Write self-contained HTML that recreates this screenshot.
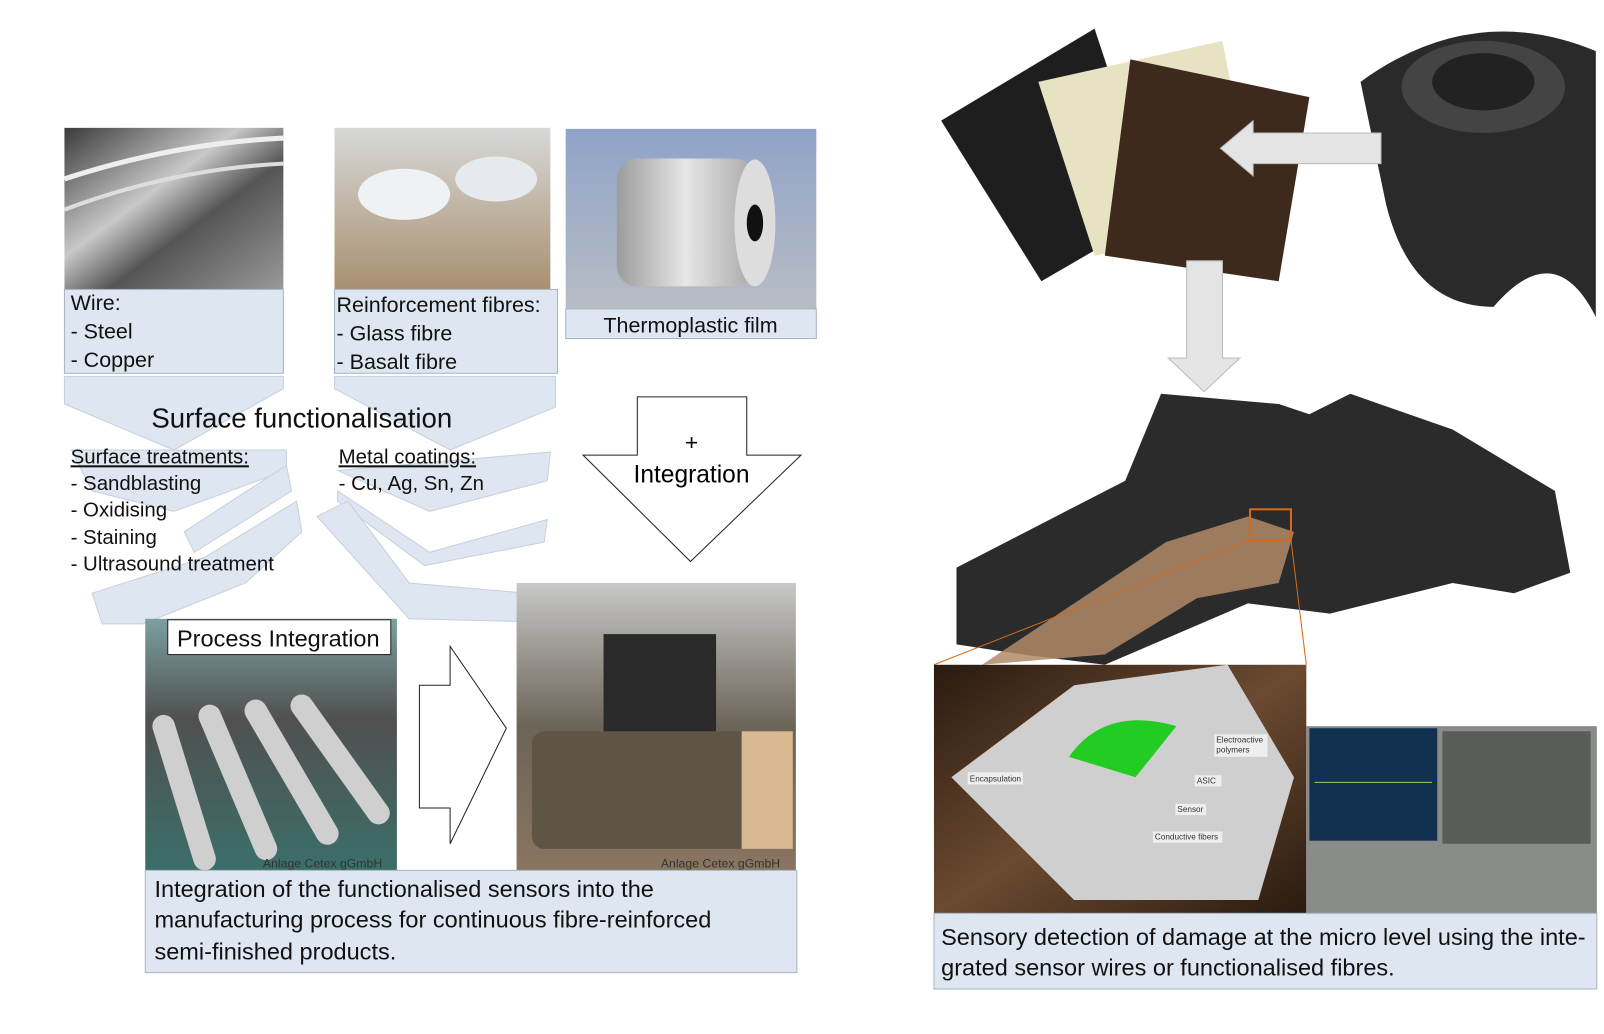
<!DOCTYPE html>
<html><head><meta charset="utf-8"><style>
body{margin:0;background:#fff;}
svg{display:block;font-family:"Liberation Sans",sans-serif;}
</style></head><body>
<svg width="1604" height="1034" viewBox="0 0 1568 1011" preserveAspectRatio="none" xmlns="http://www.w3.org/2000/svg">
<defs>
<linearGradient id="wire" x1="0" y1="0" x2="1" y2="1"><stop offset="0" stop-color="#3a3a3a"/><stop offset=".4" stop-color="#c8c8c8"/><stop offset=".6" stop-color="#555"/><stop offset="1" stop-color="#999"/></linearGradient>
<linearGradient id="film" x1="0" y1="0" x2="0" y2="1"><stop offset="0" stop-color="#8fa3c8"/><stop offset="1" stop-color="#b8bcc4"/></linearGradient>
<linearGradient id="roll" x1="0" y1="0" x2="1" y2="0"><stop offset="0" stop-color="#9c9c9c"/><stop offset=".5" stop-color="#e6e6e6"/><stop offset="1" stop-color="#a8a8a8"/></linearGradient>
<linearGradient id="fib" x1="0" y1="0" x2="0" y2="1"><stop offset="0" stop-color="#d8d8d8"/><stop offset="1" stop-color="#a89070"/></linearGradient>
<linearGradient id="mach" x1="0" y1="0" x2="0" y2="1"><stop offset="0" stop-color="#7aa0a0"/><stop offset=".4" stop-color="#505050"/><stop offset="1" stop-color="#3b6f6a"/></linearGradient>
<linearGradient id="mach2" x1="0" y1="0" x2="0" y2="1"><stop offset="0" stop-color="#c8c8c8"/><stop offset=".5" stop-color="#6b6458"/><stop offset="1" stop-color="#8a7560"/></linearGradient>
<linearGradient id="brown" x1="0" y1="0" x2="1" y2="1"><stop offset="0" stop-color="#2a1a10"/><stop offset=".5" stop-color="#6b4a30"/><stop offset="1" stop-color="#2a1a10"/></linearGradient>
</defs>

<rect x="63" y="125" width="214" height="158" fill="url(#wire)"/>
<path d="M63 175 Q170 140 277 135" stroke="#eee" stroke-width="5" fill="none"/>
<path d="M63 205 Q170 165 277 160" stroke="#ddd" stroke-width="4" fill="none"/>
<rect x="327" y="125" width="211" height="158" fill="url(#fib)"/>
<ellipse cx="395" cy="190" rx="45" ry="25" fill="#eef2f4"/><ellipse cx="485" cy="175" rx="40" ry="22" fill="#e6eaee"/>
<rect x="553" y="126" width="245" height="176" fill="url(#film)"/>
<rect x="603" y="155" width="135" height="125" rx="20" fill="url(#roll)"/>
<ellipse cx="738" cy="218" rx="20" ry="62" fill="#ddd"/><ellipse cx="738" cy="218" rx="8" ry="18" fill="#111"/>

<g fill="#dde6f1" stroke="#aab4c0" stroke-width="1">
<rect x="63" y="283" width="214" height="82"/>
<rect x="327" y="283" width="218" height="82"/>
<rect x="553" y="302" width="245" height="29"/>
</g>
<g font-size="21" fill="#111">
<text x="69" y="303">Wire:</text><text x="69" y="331">- Steel</text><text x="69" y="359">- Copper</text>
<text x="329" y="305">Reinforcement fibres:</text><text x="329" y="333">- Glass fibre</text><text x="329" y="361">- Basalt fibre</text>
<text x="675" y="325" text-anchor="middle">Thermoplastic film</text>
</g>

<g fill="#dde6f1" stroke="#c8d0da" stroke-width="1">
<polygon points="63,368 277,368 277,380 170,440 63,395"/>
<polygon points="327,368 543,368 543,398 440,440 327,380"/>
<polygon points="70,440 280,440 280,460 170,500 90,480"/>
<polygon points="330,460 538,442 535,470 420,500"/>
<polygon points="180,520 280,455 285,480 190,540"/>
<polygon points="330,480 420,540 535,508 532,530 415,553 330,490"/>
<polygon points="90,580 200,545 290,490 295,520 240,570 140,610 100,610"/>
<polygon points="310,505 340,490 400,570 515,580 520,608 400,605"/>
</g>
<text x="148" y="418" font-size="27" fill="#111">Surface functionalisation</text>
<g font-size="20" fill="#111">
<text x="69" y="453" text-decoration="underline">Surface treatments:</text>
<text x="69" y="479">- Sandblasting</text>
<text x="69" y="505">- Oxidising</text>
<text x="69" y="532">- Staining</text>
<text x="69" y="558">- Ultrasound treatment</text>
<text x="331" y="453" text-decoration="underline">Metal coatings:</text>
<text x="331" y="479">- Cu, Ag, Sn, Zn</text>
</g>

<polygon points="623,388 730,388 730,445 783,445 675,549 570,445 623,445" fill="#fff" stroke="#222" stroke-width="1"/>
<text x="676" y="440" font-size="22" text-anchor="middle">+</text>
<text x="676" y="472" font-size="24" text-anchor="middle">Integration</text>

<rect x="142" y="605" width="246" height="246" fill="url(#mach)"/>
<g stroke="#cfcfcf" stroke-width="22" stroke-linecap="round">
<line x1="160" y1="710" x2="200" y2="840"/><line x1="205" y1="700" x2="260" y2="830"/><line x1="250" y1="695" x2="320" y2="815"/><line x1="295" y1="690" x2="370" y2="795"/>
</g>
<rect x="505" y="570" width="273" height="281" fill="url(#mach2)"/>
<rect x="590" y="620" width="110" height="100" fill="#2a2a2a"/>
<rect x="520" y="715" width="250" height="115" rx="12" fill="#5e5544"/>
<rect x="725" y="715" width="50" height="115" fill="#d8b890"/>
<text x="257" y="848" font-size="12" fill="#333">Anlage Cetex gGmbH</text>
<text x="646" y="848" font-size="12" fill="#333">Anlage Cetex gGmbH</text>
<rect x="164" y="606" width="218" height="34" fill="#fff" stroke="#222"/>
<text x="173" y="632" font-size="23" fill="#111">Process Integration</text>
<polygon points="410,670 440,670 440,632 495,712 440,825 440,790 410,790" fill="#fff" stroke="#222" stroke-width="1"/>
<rect x="142" y="851" width="637" height="100" fill="#dde6f1" stroke="#aab4c0"/>
<g font-size="23" fill="#111">
<text x="151" y="877">Integration of the functionalised sensors into the</text>
<text x="151" y="907">manufacturing process for continuous fibre-reinforced</text>
<text x="151" y="938">semi-finished products.</text>
</g>

<polygon points="920,118 1070,28 1130,210 1018,275" fill="#1e1e1e"/>
<polygon points="1015,80 1195,40 1230,220 1070,250" fill="#e6e2c2"/>
<polygon points="1105,58 1280,95 1250,275 1080,250" fill="#3d2a1c"/>
<path d="M1330,80 Q1440,0 1560,50 L1560,310 Q1520,230 1460,300 Q1380,300 1355,200 Z" fill="#2a2a2a"/>
<ellipse cx="1450" cy="85" rx="80" ry="45" fill="#444"/><ellipse cx="1450" cy="80" rx="50" ry="28" fill="#222"/>
<polygon points="1350,130 1350,160 1225,160 1225,172 1193,145 1225,118 1225,130" fill="#e4e4e4" stroke="#bbb"/>
<polygon points="1160,255 1195,255 1195,350 1212,350 1177,383 1142,350 1160,350" fill="#e4e4e4" stroke="#bbb"/>
<path d="M935,555 L1100,470 L1135,385 L1250,395 L1280,405 L1320,385 L1420,420 L1520,480 L1535,560 L1480,580 L1420,570 L1300,600 L1220,590 L1080,650 L1000,640 L935,630 Z" fill="#2b2b2b"/>
<polygon points="960,650 1140,530 1220,505 1265,520 1250,570 1170,585 1080,640" fill="#b08a68" opacity=".85"/>
<rect x="1222" y="498" width="40" height="30" fill="none" stroke="#d26a1a" stroke-width="2"/>
<line x1="1222" y1="528" x2="913" y2="650" stroke="#d26a1a"/>
<line x1="1262" y1="528" x2="1277" y2="650" stroke="#d26a1a"/>
<rect x="913" y="650" width="364" height="243" fill="url(#brown)"/>
<polygon points="930,760 1050,670 1200,650 1265,760 1230,880 1050,880" fill="#cfcfcf"/>
<path d="M1045,740 Q1080,690 1150,710 L1110,760 Z" fill="#22cc22"/>
<g font-size="8" fill="#333">
<rect x="946" y="755" width="54" height="12" fill="#eee"/><text x="948" y="764">Encapsulation</text>
<rect x="1187" y="718" width="52" height="22" fill="#eee"/><text x="1189" y="726">Electroactive</text><text x="1189" y="736">polymers</text>
<rect x="1168" y="758" width="26" height="11" fill="#eee"/><text x="1170" y="766">ASIC</text>
<rect x="1149" y="786" width="30" height="11" fill="#eee"/><text x="1151" y="794">Sensor</text>
<rect x="1127" y="813" width="68" height="11" fill="#eee"/><text x="1129" y="821">Conductive fibers</text>
</g>
<rect x="1277" y="710" width="284" height="183" fill="#8a8c8a"/>
<rect x="1280" y="712" width="125" height="110" fill="#123050"/>
<line x1="1285" y1="765" x2="1400" y2="765" stroke="#9ecf6a"/>
<rect x="1410" y="715" width="145" height="110" fill="#5a5c5a"/>
<rect x="913" y="893" width="648" height="74" fill="#dde6f1" stroke="#aab4c0"/>
<g font-size="23" fill="#111">
<text x="920" y="924">Sensory detection of damage at the micro level using the inte-</text>
<text x="920" y="954">grated sensor wires or functionalised fibres.</text>
</g>
</svg>
</body></html>
